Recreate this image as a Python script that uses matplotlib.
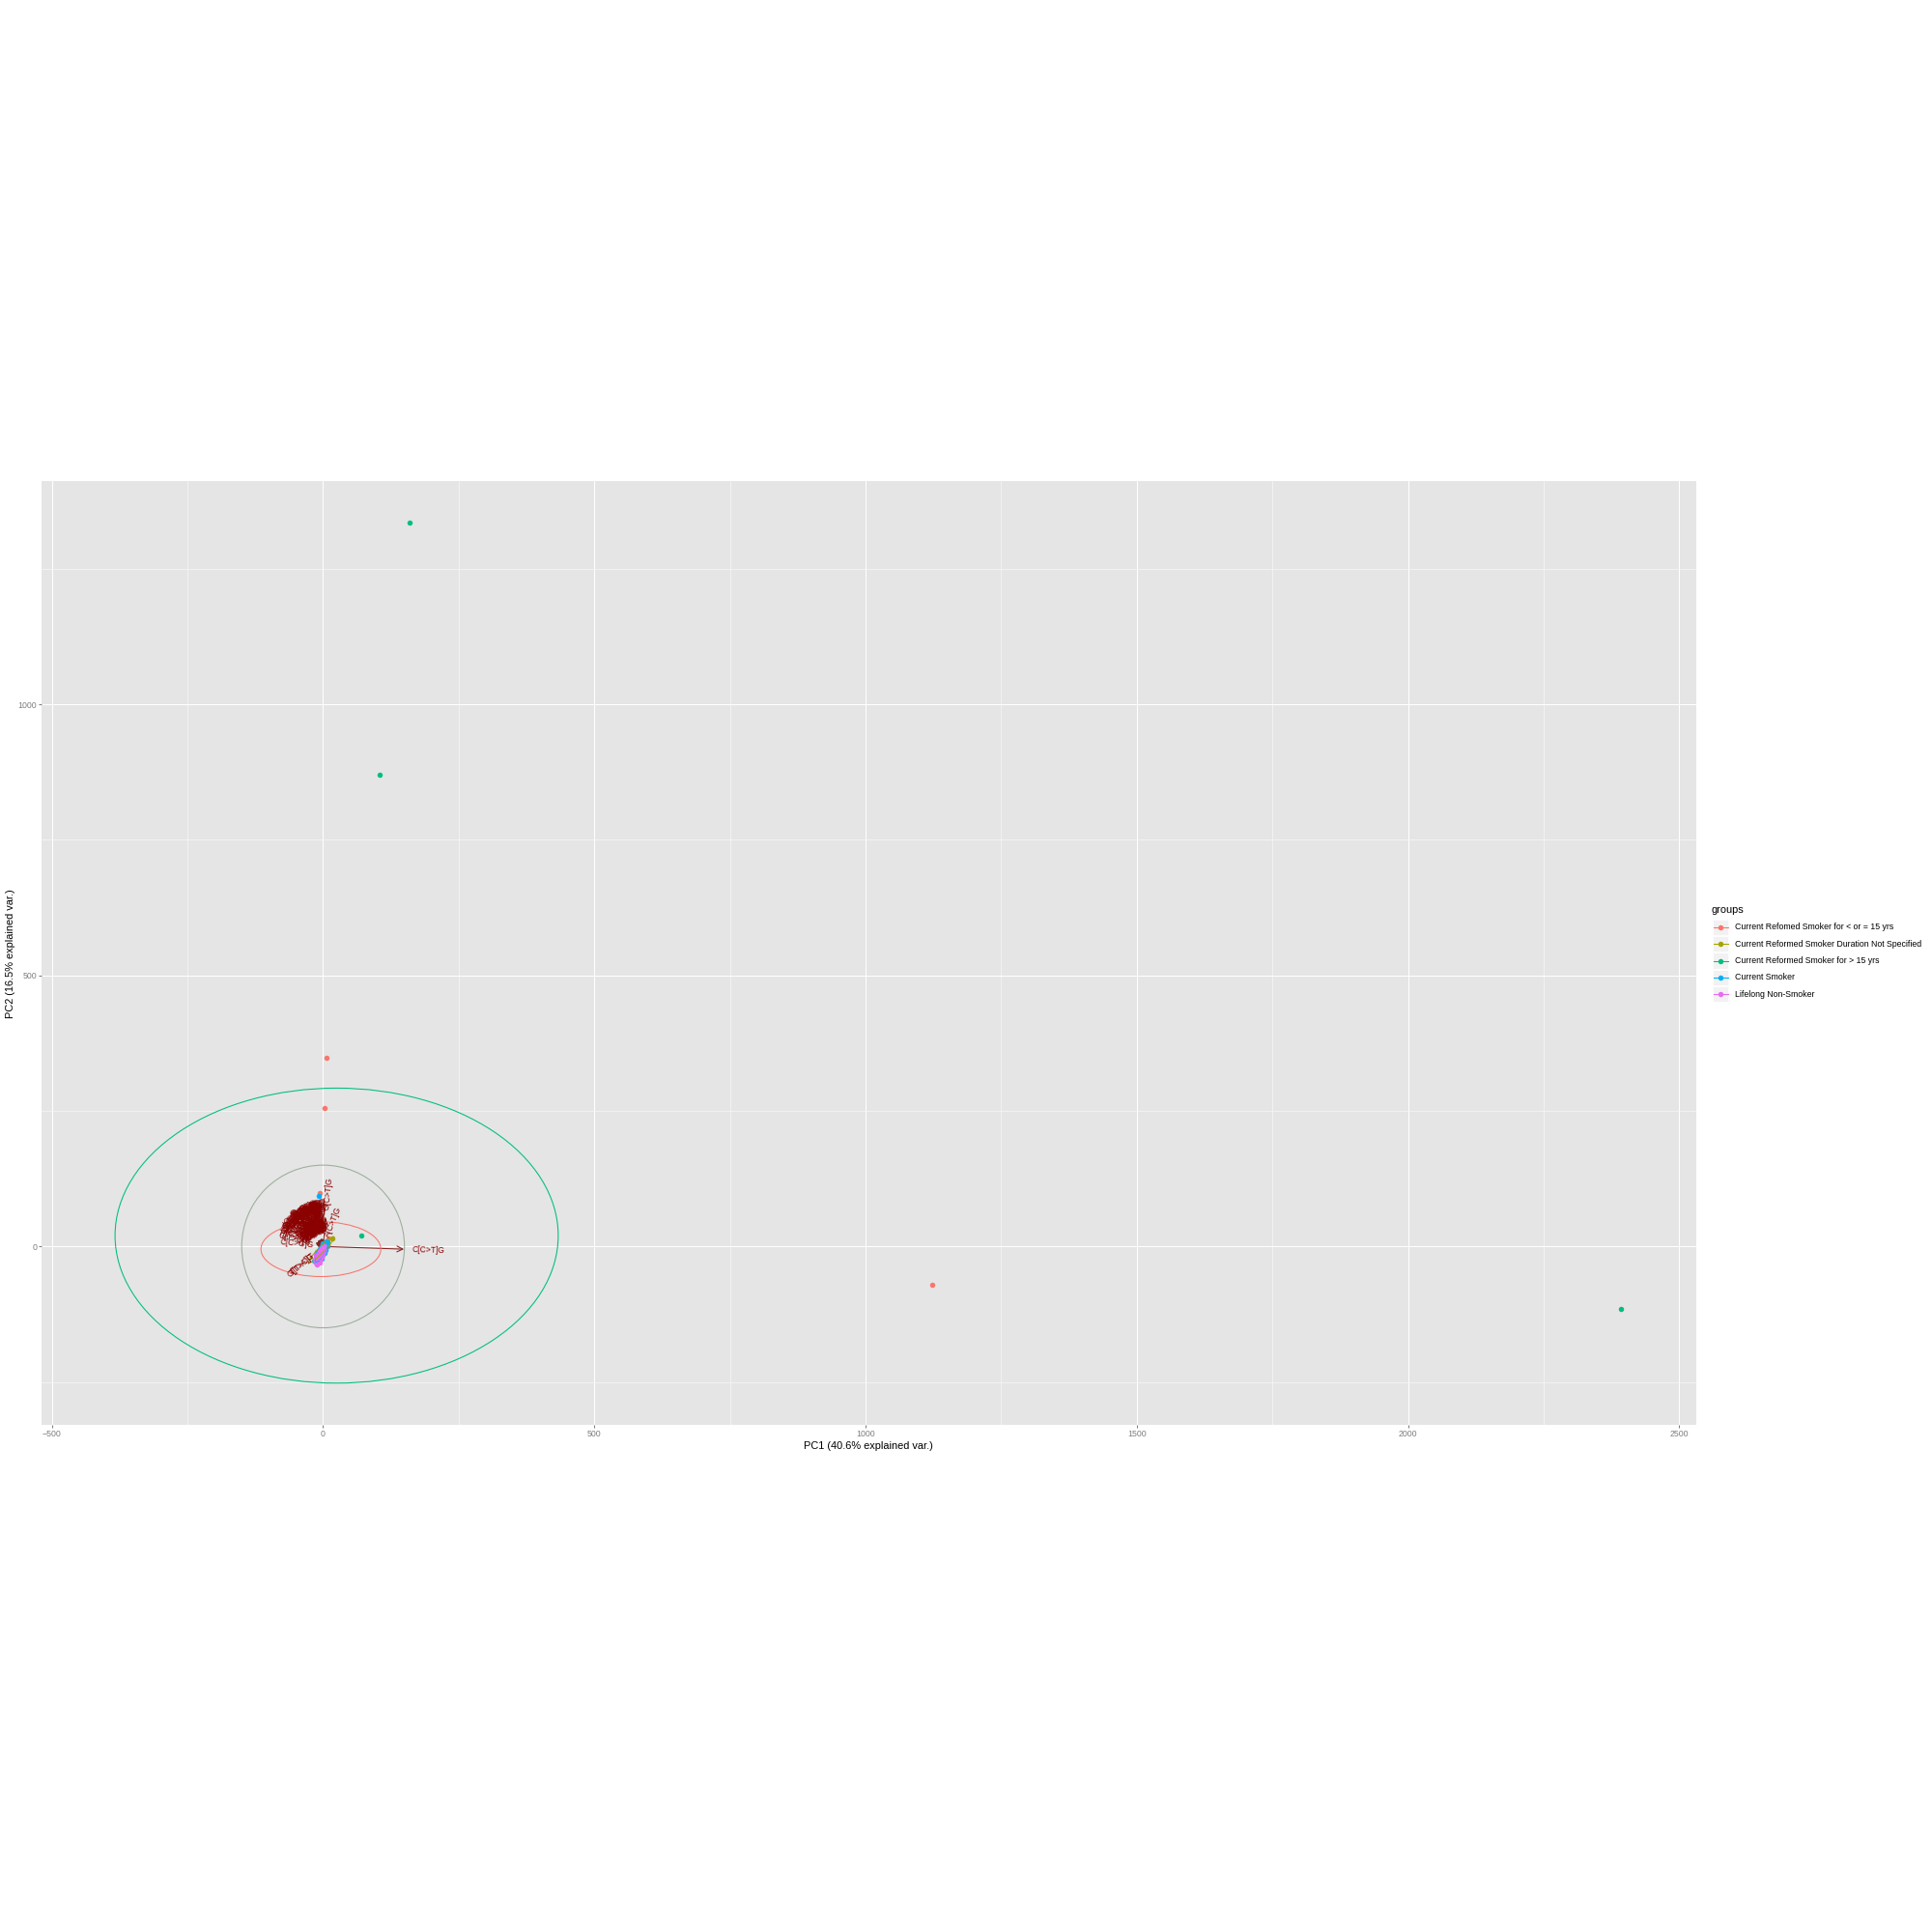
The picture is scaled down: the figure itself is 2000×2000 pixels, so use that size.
import numpy as np
import matplotlib
matplotlib.use('Agg')
import matplotlib.pyplot as plt
from matplotlib.patches import Ellipse, Circle, Rectangle
from matplotlib.lines import Line2D

plt.rcParams['font.family'] = ['Liberation Sans', 'DejaVu Sans']

# groups and colours (ggplot hue palette)
groups = ['Current Refomed Smoker for < or = 15 yrs',
          'Current Reformed Smoker Duration Not Specified',
          'Current Reformed Smoker for > 15 yrs',
          'Current Smoker',
          'Lifelong Non-Smoker']
colors = ['#F8766D', '#A3A500', '#00BF7D', '#00B0F6', '#E76BF3']

# sample scores (PC1, PC2)
red_x = [1123, 7, 2, -6, -8, -5, -3, -1, 1, 3, 5, 7, 9, -6, -2, 2, 6, 0, 4, -4, 8, 10, -12, -9, -1, 3]
red_y = [-71, 348, 256, 99, -22, -12, -16, -3, -10, 2, -3, 10, 5, -27, -8, -1, 8, -14, 6, -20, 0, 14, -18, -11, 5, -7]
olive_x = [17, -9, -6, -3, 0, 2, 4, -1, 1, 5, -7, -13]
olive_y = [15, -28, -20, -14, -8, -5, -2, -11, -6, 0, -24, -22]
green_x = [159, 104, 70, 2393, -7, -4, -2, 1, 3, 6, -5, 0, 2, 8]
green_y = [1335, 870, 21, -115, -25, -16, -10, -7, -3, 2, -19, -11, -4, 7]
blue_x = [-7.5, -10, -7, -4, -2, 0, 2, 4, 6, -8, -5, -1, 3, 5, -3, 1, 7, -14, -11, -6, 0, 9, -16]
blue_y = [94, -29, -18, -17, -6, -9, -12, -3, 4, -26, -12, -16, 2, -6, -22, -1, 9, -20, -10, -4, 6, 3, -26]
purple_x = [-12, -10, -8, -6, -4, -2, 0, 2, -9, -7, -5, -3, -1, 1, 3, -11, -15, -13, -6, -2]
purple_y = [-33, -24, -28, -16, -22, -10, -15, -4, -20, -30, -14, -19, -6, -11, 1, -27, -24, -16, -9, -2]

# group ellipses: centre x, centre y, width, height, angle
ell_cx = [-4, -3, 25, -3, -6]
ell_cy = [-5, -6, 20, -9, -16]
ell_w = [221, 66, 817, 44, 40]
ell_h = [101, 11, 544, 14, 13]
ell_ang = [0, 46, 0, 62, 62]

circle_r = 150

# variable loadings (arrow tips), 96 trinucleotide contexts
muts = ['C>A', 'C>G', 'C>T', 'T>A', 'T>C', 'T>G']
bases = ['A', 'C', 'G', 'T']
var_names = [f'{a}[{m}]{b}' for m in muts for a in bases for b in bases]
var_x = [-4, -3, -6, -2, -5, -7, -3, -8, -10, -6, -9, -4, -2, -5, -7, -3,
         -6, -4, -8, -2, -5, -3, -3, -7, -9, -1, -6, -4, -11, -2, -5, -8,
         -3, -6, 2, -9, -2, -5, 149, -7, -4, -10, 5, -1, -12, -3, -6, -8,
         -5, -2, -7, -4, -10, -3, -8, -6, -1, -11, -7, -4, -9, -2, -13, -5,
         -4, -8, -3, -6, -2, -9, -5, -11, -7, -3, -8, -6, -1, -4, -10, -6,
         -2, -7, -5, -9, -3, -12, -6, -4, -8, -1, -10, -5, -3, -7, -14, -2]
var_y = [9, 11, 8, 12, 10, 7, 13, 6, 8, 11, 5, 13, 8, 10, 4, 10,
         10, 13, 9, 11, 12, 8, 0.3, 12, 10, 14, 6, 14, 5, 9, 5, 11,
         12, 10, 5, 6, 14, 8, -5, 10, 13, 4, 52, 15, 6, 11, 12, 9,
         7, 12, 11, 10, 8, 14, 9, 5, 10, 6, -6, 15, 11, 8, 4, 13,
         8, 9, 14, 11, 9, 10, 6, 8, 12, 11, 2, 5, 7, 14, 9, -5,
         9, 7, 13, 11, 15, 8, 8, 12, 6, 12, 11, 10, 5, 13, 7, 8]

fig = plt.figure(figsize=(2000 / 72, 2000 / 72), dpi=72)
ax = fig.add_axes([43 / 2000, 1 - 1475 / 2000, 1712.7 / 2000, 976.7 / 2000])
ax.set_facecolor('#E5E5E5')
for s in ax.spines.values():
    s.set_visible(False)

ax.set_xlim(-519, 2531)
ax.set_ylim(-329, 1411)
ax.set_xticks([-500, 0, 500, 1000, 1500, 2000, 2500])
ax.set_xticks([-250, 250, 750, 1250, 1750, 2250], minor=True)
ax.set_yticks([0, 500, 1000])
ax.set_yticks([-250, 250, 750, 1250], minor=True)
ax.grid(which='major', color='white', lw=1.07)
ax.grid(which='minor', color='#F5F5F5', lw=0.75)
ax.set_axisbelow(True)
ax.tick_params(which='major', length=2.75, width=1.07, color='#7F7F7F',
               labelsize=8.8, labelcolor='#7F7F7F', pad=2.2)
ax.tick_params(which='minor', length=0)
ax.set_xlabel('PC1 (40.6% explained var.)', fontsize=11, labelpad=2.75)
ax.set_ylabel('PC2 (16.5% explained var.)', fontsize=11, labelpad=2.75)

# correlation circle
ax.add_patch(Circle((0, 0), circle_r, fill=False, ec='#9CAE9C', lw=1.07, zorder=2))

# loading arrows
for vx, vy in zip(var_x, var_y):
    ax.annotate('', xy=(vx, vy), xytext=(0, 0),
                arrowprops=dict(arrowstyle='->,head_length=0.6,head_width=0.3',
                                color='#832424', lw=1.07, shrinkA=0, shrinkB=0,
                                mutation_scale=10), zorder=3)

# sample points
xs = [red_x, olive_x, green_x, blue_x, purple_x]
ys = [red_y, olive_y, green_y, blue_y, purple_y]
for gx, gy, c in zip(xs, ys, colors):
    ax.scatter(gx, gy, s=30, color=c, linewidths=0, zorder=4)

# group ellipses
for i, c in enumerate(colors):
    ax.add_patch(Ellipse((ell_cx[i], ell_cy[i]), ell_w[i], ell_h[i], angle=ell_ang[i],
                         fill=False, ec=c, lw=1.07, zorder=5))

# variable labels
off = 0.25 * 33
for name, vx, vy in zip(var_names, var_x, var_y):
    ang = np.degrees(np.arctan(vy / vx))
    d = np.array([np.cos(np.radians(ang)), np.sin(np.radians(ang))])
    if vx > 0:
        dx, dy, ha = off * d[0], off * d[1], 'left'
    else:
        dx, dy, ha = -off * d[0], -off * d[1], 'right'
    ax.annotate(name, xy=(vx, vy), xytext=(dx, dy), textcoords='offset points',
                rotation=ang, rotation_mode='anchor', ha=ha, va='center',
                fontsize=8.54, color='#8B0000', zorder=6)

# legend
lg = fig.add_axes([0, 0, 1, 1], zorder=10)
lg.set_xlim(0, 2000)
lg.set_ylim(2000, 0)
lg.axis('off')
lg.text(1772, 942, 'groups', fontsize=11, ha='left', va='center')
for i, (g, c) in enumerate(zip(groups, colors)):
    yc = 960 + 17.28 * i
    lg.add_patch(Rectangle((1772.5, yc - 8.2), 16.8, 16.4, fc='#F2F2F2', ec='white', lw=0.8))
    lg.add_line(Line2D([1774, 1788.5], [yc, yc], color=c, lw=1.07))
    lg.scatter([1781], [yc], s=30, color=c, linewidths=0, zorder=3)
    lg.text(1795.5, yc, g, fontsize=8.8, ha='left', va='center')

fig.savefig('out.png', dpi=72, facecolor='white')
